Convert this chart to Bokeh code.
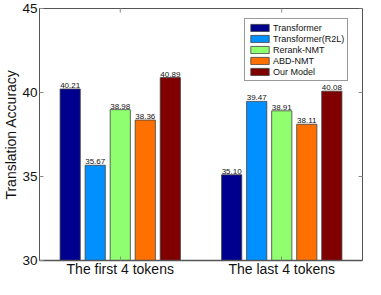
import math
from bokeh.plotting import figure
from bokeh.models import (ColumnDataSource, Range1d, LinearAxis, FixedTicker,
                          Legend, LegendItem)
from bokeh.core.properties import value
from bokeh.embed import file_html
from bokeh.resources import INLINE

# ---- data ----
groups = ["The first 4 tokens", "The last 4 tokens"]
series = ["Transformer", "Transformer(R2L)", "Rerank-NMT", "ABD-NMT", "Our Model"]
transformer = [40.21, 35.10]
transformer_r2l = [35.67, 39.47]
rerank_nmt = [38.98, 38.91]
abd_nmt = [38.36, 38.11]
our_model = [40.89, 40.08]
values = [transformer, transformer_r2l, rerank_nmt, abd_nmt, our_model]
colors = ["#00008F", "#0090FF", "#8FFF70", "#FF7000", "#800000"]
y_ticks = [30, 35, 40, 45]

FONT = "Liberation Sans"
FRAME = "#555555"
TICK = "#8a8a8a"
X0, X1 = 0.5, 2.5
Y0, Y1 = 30, 45

p = figure(width=365, height=279, output_backend="svg", toolbar_location=None,
           x_range=Range1d(X0, X1), y_range=Range1d(Y0, Y1),
           x_axis_type=None, y_axis_type=None,
           min_border_left=0, min_border_right=3, min_border_top=8,
           min_border_bottom=0)
p.xgrid.visible = False
p.ygrid.visible = False
p.outline_line_color = FRAME
p.background_fill_color = "white"
p.border_fill_color = "white"

group_pos = [i + 1 for i in range(len(groups))]
step = 0.155
bw = 0.125
items = []
for i, (name, vals, col) in enumerate(zip(series, values, colors)):
    xs = [g + (i - 2) * step for g in group_pos]
    src = ColumnDataSource(dict(x=xs, top=vals, lab=["%.2f" % v for v in vals]))
    r = p.vbar(x="x", top="top", bottom=Y0, width=bw, source=src,
               fill_color=col, line_color="#404040", line_width=0.8)
    p.text(x="x", y="top", text="lab", source=src, text_align="center",
           text_baseline="bottom", y_offset=-1, text_font_size="8px",
           text_font=value(FONT), text_color="#111111")
    items.append(LegendItem(label=name, renderers=[r]))

# inner ticks on the right and top edges (MATLAB box style)
p.scatter(x=[X1] * len(y_ticks), y=y_ticks, marker="dash", size=8,
          line_color=TICK, line_width=1)
p.scatter(x=group_pos, y=[Y1] * len(group_pos), marker="dash", size=8,
          angle=math.pi / 2, line_color=TICK, line_width=1)

# axes
left = LinearAxis(ticker=FixedTicker(ticks=y_ticks), axis_label="Translation Accuracy")
left.major_tick_in = 4
left.major_tick_out = 0
left.minor_tick_line_color = None
left.major_tick_line_color = TICK
left.axis_line_color = FRAME
left.major_label_text_font = FONT
left.major_label_text_font_size = "13.5px"
left.major_label_text_color = "#111111"
left.major_label_standoff = 2
left.axis_label_text_font = FONT
left.axis_label_text_font_size = "14px"
left.axis_label_text_font_style = "normal"
left.axis_label_text_color = "#111111"
left.axis_label_standoff = 0
p.add_layout(left, "left")

bottom = LinearAxis(ticker=FixedTicker(ticks=group_pos),
                    major_label_overrides={g: n for g, n in zip(group_pos, groups)})
bottom.major_tick_in = 4
bottom.major_tick_out = 0
bottom.minor_tick_line_color = None
bottom.major_tick_line_color = TICK
bottom.axis_line_color = FRAME
bottom.axis_line_width = 1.5
bottom.major_label_text_font = FONT
bottom.major_label_text_font_size = "14px"
bottom.major_label_text_color = "#111111"
bottom.major_label_standoff = 0
p.add_layout(bottom, "below")

legend = Legend(items=items, location=(205, 179))
legend.margin = 0
legend.padding = 3
legend.spacing = 0
legend.label_text_font = FONT
legend.label_text_font_size = "9px"
legend.label_text_color = "#111111"
legend.label_height = 11
legend.label_standoff = 2
legend.glyph_width = 23
legend.glyph_height = 9
legend.border_line_color = "#333333"
legend.border_line_width = 1
legend.background_fill_color = "white"
legend.background_fill_alpha = 1
p.add_layout(legend, "center")

open("out.html", "w").write(file_html(p, INLINE))
